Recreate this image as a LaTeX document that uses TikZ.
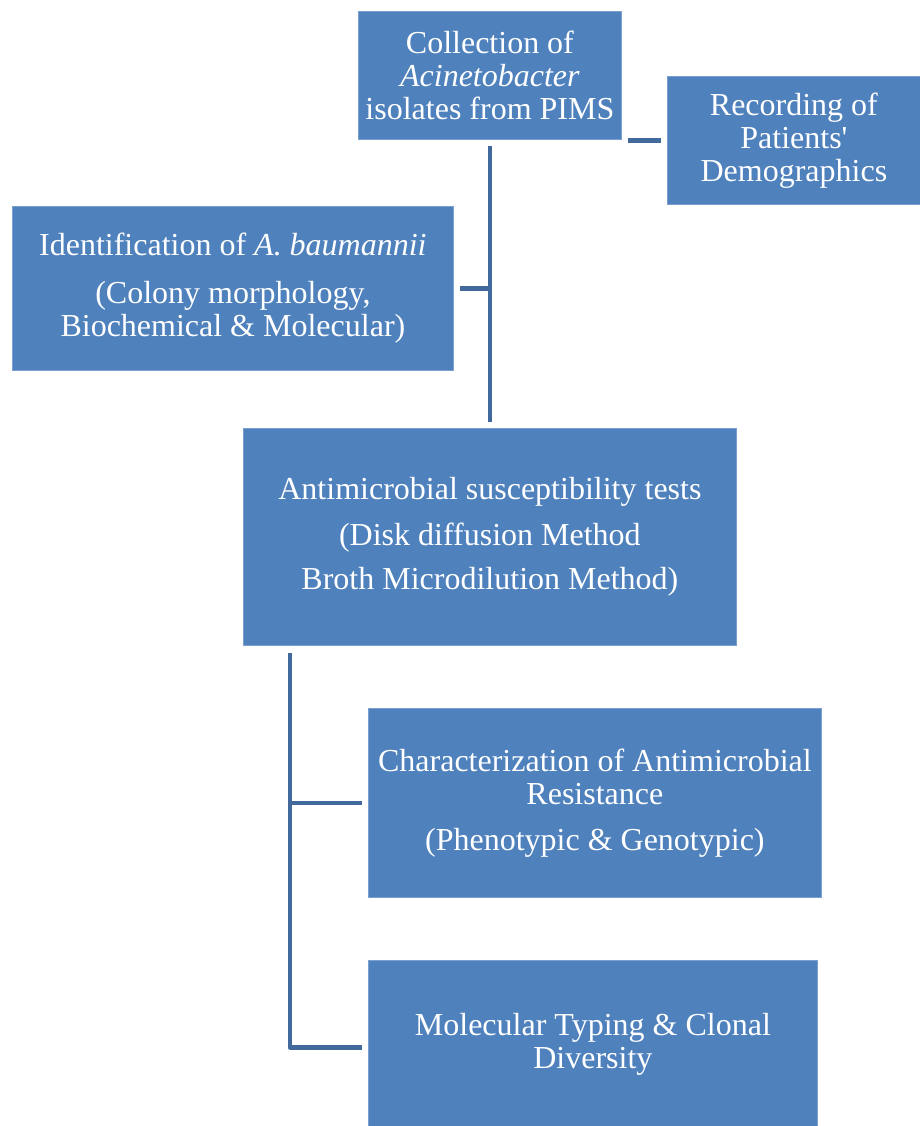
\documentclass[tikz,border=0pt]{standalone}
\usepackage{fontspec}
\setmainfont{Liberation Serif}
\newfontfamily\rawserif[Ligatures=TeXOff]{Liberation Serif}
\definecolor{boxblue}{HTML}{4F81BD}
\definecolor{boxedge}{HTML}{7A9FD0}
\definecolor{linkblue}{HTML}{41699C}
\begin{document}
\begin{tikzpicture}[x=1pt,y=-1pt,
  box/.style={draw=boxedge, line width=0.8pt, fill=boxblue, text=white, align=center,
    anchor=north west, inner sep=0pt, font=\fontsize{32}{33}\selectfont},
  link/.style={draw=linkblue, line width=4.5pt, line join=round}]
\useasboundingbox (0,0) rectangle (920,1126);
\node[box, minimum width=263pt, minimum height=128pt] (coll) at (358,11)
  {Collection of\\ \textit{Acinetobacter}\\ isolates from PIMS};
\node[box, minimum width=253pt, minimum height=128pt] (rec) at (667,76)
  {Recording of\\ Patients{\rawserif '}\\ Demographics};
\node[box, minimum width=441pt, minimum height=164pt] (ident) at (12,206)
  {Identification of \textit{A. baumannii}\\[15pt] (Colony morphology,\\ Biochemical \& Molecular)};
\node[box, minimum width=493pt, minimum height=217pt] (anti) at (243,428)
  {Antimicrobial susceptibility tests\\[13pt] (Disk diffusion Method\\[11pt] Broth Microdilution Method)};
\node[box, minimum width=453pt, minimum height=189pt] (char) at (368,708)
  {Characterization of Antimicrobial\\ Resistance\\[13pt] (Phenotypic \& Genotypic)};
\node[box, minimum width=449pt, minimum height=168pt] (mol) at (368,960)
  {Molecular Typing \& Clonal\\ Diversity};
% connectors
\draw[link] ([xshift=6pt]rec.west -| coll.east) -- ([xshift=-6pt]rec.west);
\draw[link] ([yshift=-6pt]coll.south) -- ([yshift=6pt]anti.north);
\draw[link] ([xshift=6pt]ident.east) -- (ident.east -| coll.south);
\coordinate (trunk) at ([xshift=47pt,yshift=-7pt]anti.south west);
\draw[link] (trunk) |- ([xshift=-6pt,yshift=-3pt]mol.west);
\draw[link] (char.west -| trunk) -- ([xshift=-6pt]char.west);
\end{tikzpicture}
\end{document}
